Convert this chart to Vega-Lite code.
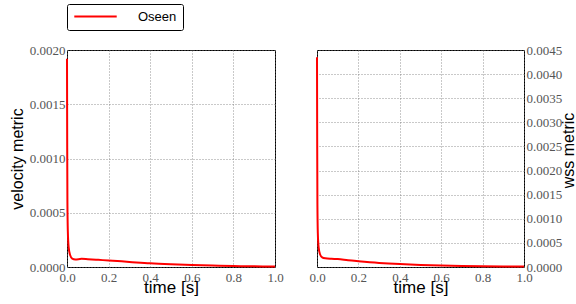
{
  "$schema": "https://vega.github.io/schema/vega-lite/v6.json",
  "padding": {"left": 8, "top": 3, "right": 0, "bottom": 5},
  "spacing": 24,
  "config": {
    "view": {"stroke": "black", "strokeWidth": 1},
    "axis": {
      "domain": false,
      "ticks": false,
      "grid": true,
      "gridColor": "#777",
      "gridDash": [1, 2],
      "gridWidth": 0.8,
      "labelFont": "Times New Roman, Liberation Serif, serif",
      "labelFontSize": 13,
      "labelColor": "#555",
      "labelOverlap": false,
      "labelBound": false,
      "labelFlush": false,
      "titleFont": "Liberation Sans, Arial, sans-serif",
      "titleFontWeight": "normal",
      "titleColor": "black"
    }
  },
  "datasets": {
    "curves": [
      {"t": 0.0, "velocity": 0.00192, "wss": 0.00435, "series": "Oseen"},
      {"t": 0.001, "velocity": 0.0011, "wss": 0.0025, "series": "Oseen"},
      {"t": 0.002, "velocity": 0.0006, "wss": 0.0013, "series": "Oseen"},
      {"t": 0.004, "velocity": 0.00033, "wss": 0.0007, "series": "Oseen"},
      {"t": 0.008, "velocity": 0.00018, "wss": 0.0004, "series": "Oseen"},
      {"t": 0.015, "velocity": 0.00011, "wss": 0.00026, "series": "Oseen"},
      {"t": 0.025, "velocity": 0.000078, "wss": 0.0002, "series": "Oseen"},
      {"t": 0.04, "velocity": 0.00007, "wss": 0.00018, "series": "Oseen"},
      {"t": 0.07, "velocity": 0.000075, "wss": 0.00017, "series": "Oseen"},
      {"t": 0.1, "velocity": 0.000072, "wss": 0.000165, "series": "Oseen"},
      {"t": 0.15, "velocity": 0.000066, "wss": 0.00014, "series": "Oseen"},
      {"t": 0.2, "velocity": 0.00006, "wss": 0.00012, "series": "Oseen"},
      {"t": 0.3, "velocity": 0.000047, "wss": 0.000085, "series": "Oseen"},
      {"t": 0.4, "velocity": 0.000034, "wss": 0.00006, "series": "Oseen"},
      {"t": 0.5, "velocity": 0.000025, "wss": 0.000042, "series": "Oseen"},
      {"t": 0.6, "velocity": 0.000018, "wss": 0.00003, "series": "Oseen"},
      {"t": 0.7, "velocity": 0.000013, "wss": 0.000022, "series": "Oseen"},
      {"t": 0.8, "velocity": 0.000009, "wss": 0.000016, "series": "Oseen"},
      {"t": 0.9, "velocity": 0.000006, "wss": 0.000012, "series": "Oseen"},
      {"t": 1.0, "velocity": 0.000004, "wss": 0.00001, "series": "Oseen"}
    ]
  },
  "resolve": {"legend": {"color": "independent"}},
  "hconcat": [
    {
      "width": 208,
      "height": 217,
      "data": {"name": "curves"},
      "mark": {"type": "line", "strokeWidth": 2, "interpolate": "monotone"},
      "encoding": {
        "x": {"field": "t", "type": "quantitative",
          "scale": {"domain": [0, 1], "nice": false},
          "axis": {"values": [0, 0.2, 0.4, 0.6, 0.8, 1.0], "format": ".1f", "title": "time [s]", "titleFontSize": 17, "titleY": 12, "titleBaseline": "top", "labelPadding": 4}},
        "y": {"field": "velocity", "type": "quantitative",
          "scale": {"domain": [0, 0.002], "nice": false},
          "axis": {"values": [0, 0.0005, 0.001, 0.0015, 0.002], "format": ".4f", "title": "velocity metric", "titleFontSize": 16, "titlePadding": 4, "labelPadding": 2}},
        "color": {"field": "series", "type": "nominal",
          "scale": {"domain": ["Oseen"], "range": ["#ff0000"]},
          "legend": {"title": null, "orient": "none", "legendX": 0, "legendY": -46,
            "symbolType": "stroke", "symbolSize": 1800, "symbolStrokeWidth": 2, "clipHeight": 13,
            "labelFont": "Liberation Sans, Arial, sans-serif", "labelFontSize": 13, "labelColor": "black", "labelOffset": 20,
            "strokeColor": "black", "padding": 6, "cornerRadius": 2, "fillColor": "white"}}
      }
    },
    {
      "width": 207,
      "height": 217,
      "data": {"name": "curves"},
      "mark": {"type": "line", "strokeWidth": 2, "interpolate": "monotone", "color": "#ff0000"},
      "encoding": {
        "x": {"field": "t", "type": "quantitative",
          "scale": {"domain": [0, 1], "nice": false},
          "axis": {"values": [0, 0.2, 0.4, 0.6, 0.8, 1.0], "format": ".1f", "title": "time [s]", "titleFontSize": 17, "titleY": 12, "titleBaseline": "top", "labelPadding": 4}},
        "y": {"field": "wss", "type": "quantitative",
          "scale": {"domain": [0, 0.0045], "nice": false},
          "axis": {"orient": "right", "values": [0, 0.0005, 0.001, 0.0015, 0.002, 0.0025, 0.003, 0.0035, 0.004, 0.0045], "format": ".4f", "title": "wss metric", "titleAngle": 270, "titleFontSize": 16, "titleX": 44, "titleY": 100, "titleBaseline": "middle", "labelPadding": 2}}
      }
    }
  ]
}
